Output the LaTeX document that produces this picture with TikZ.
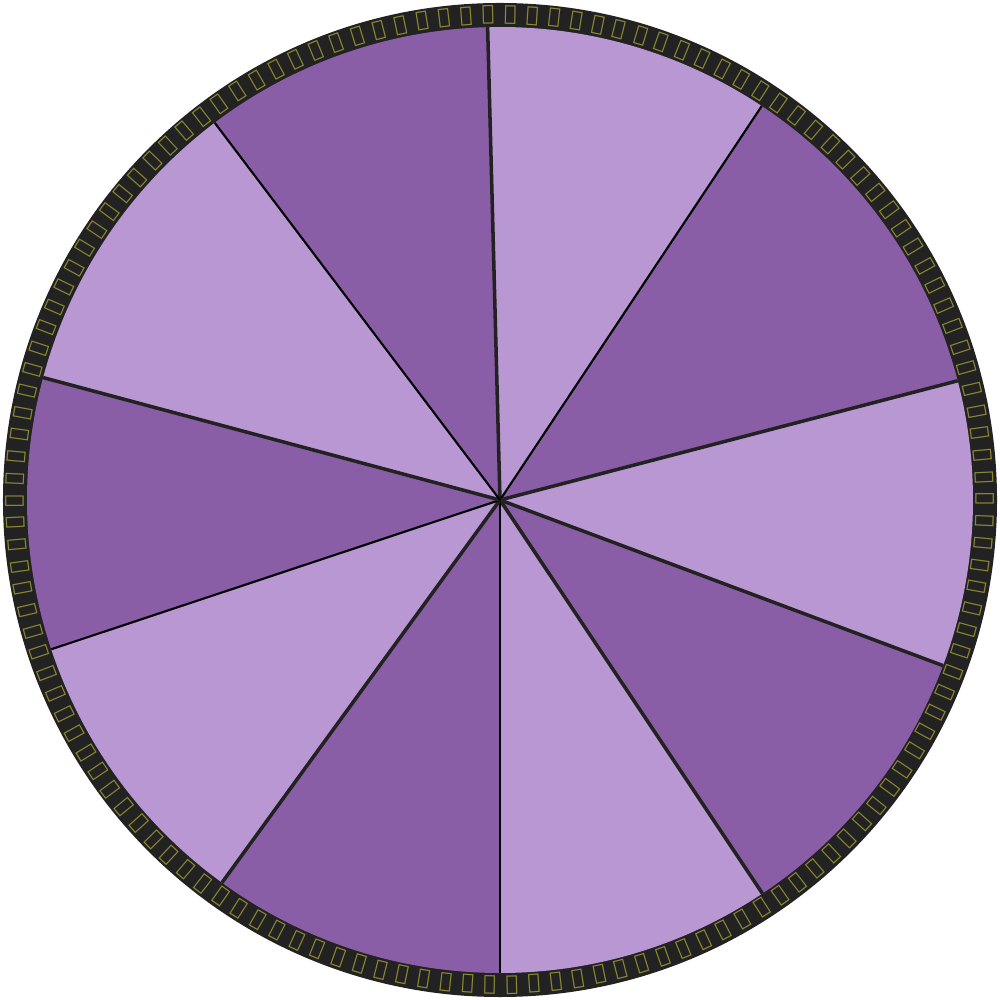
\documentclass[tikz,border=0pt]{standalone}
\usepackage{fontspec}
\newfontfamily\runefont{DejaVu Sans}
\definecolor{wheeldark}{HTML}{8A5EA6}
\definecolor{wheellight}{HTML}{B997D3}
\definecolor{ringblack}{HTML}{222222}
\definecolor{runegold}{HTML}{8E8A32}
\def\runeunit{ᚷ,ᛖ,ᛗ,ᛉ,ᛒ,ᚷ,ᛚ,ᚠ,ᛖ,ᛒ,ᛚ,ᚷ,ᛉ,ᛗ,ᛖ,ᚠ,ᛒ,ᚷ,ᛗ,ᛚ,ᛉ,ᛒ,ᚠ,ᛖ,ᛗ,ᛉ,ᚠ}
\edef\runering{ᛈ,ᚹ,\runeunit,\runeunit,\runeunit,\runeunit,ᚷ,ᛖ,ᛗ,ᛉ,ᛒ,ᚷ,ᛚ,ᚠ,ᛖ,ᛒ,ᛚ,ᚷ,ᛉ,ᛗ,ᛖ,ᚠ,ᛒ,ᚷ,ᛗ,ᛚ,ᛉ,ᛒ,ᚠ,ᛖ,ᛗ,ᛉ,ᚷ,ᛒ}
\begin{document}
\begin{tikzpicture}[line width=0.6pt,
    spoke/.style={draw=ringblack, line width=1.0pt},
    thinspoke/.style={draw=black, line width=0.6pt},
    rune/.style={text=runegold, font=\runefont\fontsize{6}{6}\selectfont, inner sep=0pt}]
  \useasboundingbox (-5,-5) rectangle (5,5);
  % ring
  \fill[ringblack] (0,0) circle (4.97);
  % wedges
  \fill[wheeldark]  (0,0) -- (91.5:4.73) arc (91.5:127.1:4.73) -- cycle;
  \fill[wheellight] (0,0) -- (127.1:4.73) arc (127.1:165:4.73) -- cycle;
  \fill[wheeldark]  (0,0) -- (165:4.73) arc (165:198.4:4.73) -- cycle;
  \fill[wheellight] (0,0) -- (198.4:4.73) arc (198.4:234:4.73) -- cycle;
  \fill[wheeldark]  (0,0) -- (234:4.73) arc (234:270:4.73) -- cycle;
  \fill[wheellight] (0,0) -- (270:4.73) arc (270:303.7:4.73) -- cycle;
  \fill[wheeldark]  (0,0) -- (303.7:4.73) arc (303.7:339.5:4.73) -- cycle;
  \fill[wheellight] (0,0) -- (339.5:4.73) arc (339.5:374.6:4.73) -- cycle;
  \fill[wheeldark]  (0,0) -- (14.6:4.73) arc (14.6:56.4:4.73) -- cycle;
  \fill[wheellight] (0,0) -- (56.4:4.73) arc (56.4:91.5:4.73) -- cycle;
  % spokes
  \coordinate (hub) at (0,0);
  \draw[spoke] (hub) -- (91.5:4.73);
  \draw[thinspoke] (hub) -- (56.4:4.73);
  \draw[spoke] (hub) -- (14.6:4.73);
  \draw[spoke] (hub) -- (-20.5:4.73);
  \draw[spoke] (hub) -- (-56.3:4.73);
  \draw[thinspoke] (hub) -- (-90:4.73);
  \draw[spoke] (hub) -- (-126:4.73);
  \draw[thinspoke] (hub) -- (-161.6:4.73);
  \draw[spoke] (hub) -- (165:4.73);
  \draw[thinspoke] (hub) -- (127.1:4.73);
  % runes round the rim
  \foreach \r [count=\i from 0] in \runering {
    \pgfmathsetmacro\a{91.4-\i*2.6087}
    \node[rune, rotate=\a-90] (rune\i) at (\a:4.85) {\r};
  }
\end{tikzpicture}
\end{document}
